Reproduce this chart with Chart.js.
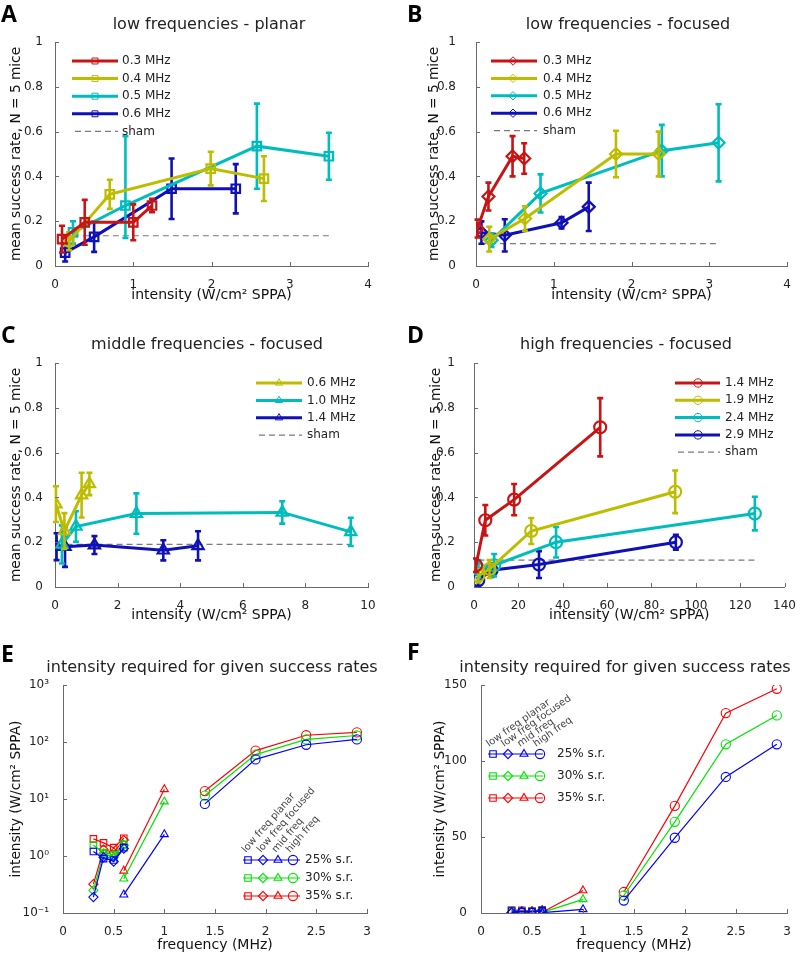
<!DOCTYPE html>
<html><head><meta charset="utf-8">
<script src="https://cdn.jsdelivr.net/npm/chart.js@4.4.1/dist/chart.umd.min.js"></script>
<style>
html,body{margin:0;padding:0;background:#fff;}
#wrap{position:relative;width:800px;height:956px;overflow:hidden;background:#fff;}
canvas{position:absolute;}
</style></head><body>
<div id="wrap">
<canvas id="cA" width="400" height="318" style="left:0px;top:0px;width:400px;height:318px"></canvas>
<canvas id="cB" width="400" height="318" style="left:400px;top:0px;width:400px;height:318px"></canvas>
<canvas id="cC" width="400" height="312" style="left:0px;top:318px;width:400px;height:312px"></canvas>
<canvas id="cD" width="400" height="312" style="left:400px;top:318px;width:400px;height:312px"></canvas>
<canvas id="cE" width="400" height="326" style="left:0px;top:630px;width:400px;height:326px"></canvas>
<canvas id="cF" width="400" height="326" style="left:400px;top:630px;width:400px;height:326px"></canvas>
</div>
<script>
// ---------------- DATA ----------------
// Panel A: low frequencies - planar (x: intensity, y: mean success rate, e: error)
const A_03_x = [0.09, 0.38, 1.0, 1.24];
const A_03_y = [0.12, 0.195, 0.195, 0.27];
const A_03_e = [0.06, 0.10, 0.08, 0.03];
const A_04_x = [0.18, 0.70, 1.99, 2.67];
const A_04_y = [0.11, 0.32, 0.435, 0.39];
const A_04_e = [0.04, 0.065, 0.075, 0.10];
const A_05_x = [0.23, 0.90, 2.58, 3.50];
const A_05_y = [0.15, 0.27, 0.535, 0.49];
const A_05_e = [0.05, 0.145, 0.19, 0.105];
const A_05_eUp = [0.05, 0.31, 0.19, 0.105];
const A_06_x = [0.13, 0.50, 1.49, 2.31];
const A_06_y = [0.06, 0.13, 0.345, 0.345];
const A_06_e = [0.04, 0.067, 0.135, 0.11];
const A_sham_x = [0.1, 3.5];
const A_sham_y = [0.135, 0.135];

// Panel B: low frequencies - focused
const B_03_x = [0.02, 0.16, 0.47, 0.62];
const B_03_y = [0.167, 0.31, 0.49, 0.48];
const B_03_e = [0.04, 0.062, 0.09, 0.068];
const B_04_x = [0.17, 0.63, 1.80, 2.35];
const B_04_y = [0.12, 0.212, 0.50, 0.50];
const B_04_e = [0.055, 0.055, 0.104, 0.10];
const B_05_x = [0.20, 0.83, 2.39, 3.12];
const B_05_y = [0.115, 0.324, 0.515, 0.55];
const B_05_e = [0.03, 0.085, 0.115, 0.172];
const B_06_x = [0.07, 0.37, 1.10, 1.45];
const B_06_y = [0.149, 0.137, 0.193, 0.264];
const B_06_e = [0.05, 0.072, 0.025, 0.108];
const B_sham_x = [0.05, 3.1];
const B_sham_y = [0.10, 0.10];

// Panel C: middle frequencies - focused
const C_06_x = [0.03, 0.30, 0.85, 1.10];
const C_06_y = [0.37, 0.25, 0.41, 0.46];
const C_06_e = [0.08, 0.08, 0.10, 0.05];
const C_10_x = [0.22, 0.67, 2.60, 7.26, 9.45];
const C_10_y = [0.19, 0.27, 0.328, 0.333, 0.246];
const C_10_e = [0.085, 0.068, 0.09, 0.05, 0.063];
const C_14_x = [0.05, 0.32, 1.26, 3.46, 4.57];
const C_14_y = [0.18, 0.18, 0.187, 0.164, 0.184];
const C_14_e = [0.06, 0.09, 0.04, 0.045, 0.065];
const C_sham_x = [0.05, 9.45];
const C_sham_y = [0.19, 0.19];

// Panel D: high frequencies - focused
const D_14_x = [0.9, 5.1, 18.1, 56.9];
const D_14_y = [0.097, 0.298, 0.39, 0.713];
const D_14_e = [0.03, 0.068, 0.07, 0.13];
const D_19_x = [2.0, 7.0, 25.8, 90.7];
const D_19_y = [0.05, 0.08, 0.25, 0.425];
const D_19_e = [0.03, 0.04, 0.058, 0.095];
const D_24_x = [2.0, 9.1, 37.0, 126.6];
const D_24_y = [0.08, 0.097, 0.20, 0.328];
const D_24_e = [0.04, 0.05, 0.068, 0.075];
const D_29_x = [1.9, 7.9, 29.3, 91.0];
const D_29_y = [0.03, 0.075, 0.10, 0.20];
const D_29_e = [0.025, 0.03, 0.06, 0.033];
const D_sham_x = [2, 127];
const D_sham_y = [0.12, 0.12];

// Panels E/F: intensity required for given success rates (x: frequency MHz)
const freqPlanar  = [0.3, 0.4, 0.5, 0.6];
const freqFocused = [0.3, 0.4, 0.5, 0.6];
const freqMid     = [0.6, 1.0];
const freqHigh    = [1.4, 1.9, 2.4, 2.9];
const sr25_planar  = [1.2, 0.9, 0.85, 1.4];
const sr25_focused = [0.19, 0.95, 0.8, 1.35];
const sr25_mid     = [0.21, 2.4];
const sr25_high    = [8.2, 49.5, 89.5, 111];
const sr30_planar  = [1.55, 1.15, 1.05, 1.6];
const sr30_focused = [0.25, 1.1, 0.95, 1.55];
const sr30_mid     = [0.4, 9.0];
const sr30_high    = [11.5, 60, 111, 130];
const sr35_planar  = [2.0, 1.7, 1.4, 2.05];
const sr35_focused = [0.32, 1.3, 1.15, 1.9];
const sr35_mid     = [0.55, 14.8];
const sr35_high    = [13.8, 70.5, 131.5, 147.5];

const ticksA = [0, 1, 2, 3, 4];
const ticksC = [0, 2, 4, 6, 8, 10];
const ticksD = [0, 20, 40, 60, 80, 100, 120, 140];
const ticksRate = [0, 0.2, 0.4, 0.6, 0.8, 1];
const ticksFreq = [0, 0.5, 1, 1.5, 2, 2.5, 3];
const ticksLog = [0.1, 1, 10, 100, 1000];
const ticksLin = [0, 50, 100, 150];

// ---------------- STYLE ----------------
const FONT = '"DejaVu Sans", sans-serif';
Chart.defaults.font.family = FONT;
Chart.defaults.color = '#222';
const RED = '#c81414', OLV = '#bdbd00', CYN = '#00bdbd', BLU = '#1010b8';
const E_BLU = '#0000ff', E_GRN = '#00e400', E_RED = '#ff0000';
const AXC = '#6a6a6a';

function pts(xs, ys) { return xs.map((x, i) => ({ x: x, y: ys[i] })); }
function series(label, xs, ys, errs, color, style, r, errsUp) {
  return { label, data: pts(xs, ys), errors: errs, errorsUp: errsUp || errs, showLine: true, borderColor: color, backgroundColor: color,
    borderWidth: 3, pointStyle: style, pointRadius: r, pointHoverRadius: r, pointBorderWidth: 2.2,
    pointBorderColor: color, pointBackgroundColor: 'rgba(255,255,255,0)', tension: 0 };
}
function sham(xs, ys) {
  return { label: 'sham', data: pts(xs, ys), showLine: true, borderColor: '#7a7a7a', borderWidth: 1.2,
    borderDash: [6, 4], pointRadius: 0, pointHoverRadius: 0 };
}
function thin(label, xs, ys, color, style) {
  return { label, data: pts(xs, ys), showLine: true, borderColor: color, backgroundColor: color, borderWidth: 1.2,
    pointStyle: style, pointRadius: 4.6, pointHoverRadius: 4.6, pointBorderWidth: 1.1, pointBorderColor: color,
    pointBackgroundColor: 'rgba(255,255,255,0)', tension: 0 };
}

function drawMarker(ctx, style, x, y, r, color, lw) {
  ctx.save(); ctx.strokeStyle = color; ctx.lineWidth = lw; ctx.setLineDash([]);
  ctx.beginPath();
  if (style === 'rect') { const s = r * Math.SQRT1_2; ctx.rect(x - s, y - s, 2 * s, 2 * s); }
  else if (style === 'rectRot') { ctx.moveTo(x, y - r); ctx.lineTo(x + r, y); ctx.lineTo(x, y + r); ctx.lineTo(x - r, y); ctx.closePath(); }
  else if (style === 'triangle') {
    let a = 0; ctx.moveTo(x + Math.sin(a) * r, y - Math.cos(a) * r);
    a += 2 * Math.PI / 3; ctx.lineTo(x + Math.sin(a) * r, y - Math.cos(a) * r);
    a += 2 * Math.PI / 3; ctx.lineTo(x + Math.sin(a) * r, y - Math.cos(a) * r); ctx.closePath();
  } else { ctx.arc(x, y, r, 0, Math.PI * 2); }
  ctx.stroke(); ctx.restore();
}

// ---------------- PLUGINS ----------------
const panelText = {
  id: 'panelText',
  afterDraw(chart, args, o) {
    const ctx = chart.ctx; ctx.save();
    ctx.fillStyle = '#000'; ctx.font = 'bold 23px "Open Sans", sans-serif';
    ctx.textAlign = 'left'; ctx.textBaseline = 'alphabetic';
    ctx.fillText(o.letter, o.lx, o.ly);
    ctx.fillStyle = '#222'; ctx.font = '16px ' + FONT; ctx.textAlign = 'center'; ctx.textBaseline = 'middle';
    ctx.fillText(o.title, o.tx, o.ty);
    ctx.restore();
  }
};
const errorBars = {
  id: 'errorBars',
  beforeDatasetDraw(chart, args) {
    const ds = chart.data.datasets[args.index];
    if (!ds.errors) return;
    const ctx = chart.ctx, xs = chart.scales.x, ys = chart.scales.y;
    ctx.save(); ctx.strokeStyle = ds.borderColor; ctx.lineWidth = 2.6; ctx.setLineDash([]);
    ds.data.forEach((p, i) => {
      const px = xs.getPixelForValue(p.x);
      const t = ys.getPixelForValue(p.y + ds.errorsUp[i]), b = ys.getPixelForValue(p.y - ds.errors[i]);
      ctx.beginPath();
      ctx.moveTo(px, t); ctx.lineTo(px, b);
      ctx.moveTo(px - 3, t); ctx.lineTo(px + 3, t);
      ctx.moveTo(px - 3, b); ctx.lineTo(px + 3, b);
      ctx.stroke();
    });
    ctx.restore();
  }
};
const inTicks = {
  id: 'inTicks',
  afterDraw(chart) {
    const ctx = chart.ctx, a = chart.chartArea, xs = chart.scales.x, ys = chart.scales.y;
    ctx.save(); ctx.strokeStyle = AXC; ctx.lineWidth = 1; ctx.beginPath();
    xs.ticks.forEach(t => { const p = Math.round(xs.getPixelForValue(t.value)) + 0.5; ctx.moveTo(p, a.bottom); ctx.lineTo(p, a.bottom - 4); });
    ys.ticks.forEach(t => { const p = Math.round(ys.getPixelForValue(t.value)) + 0.5; ctx.moveTo(a.left, p); ctx.lineTo(a.left + 4, p); });
    ctx.stroke(); ctx.restore();
  }
};
const lineLegend = {
  id: 'lineLegend',
  afterDraw(chart, args, o) {
    if (!o || o.x0 == null) return;
    const ctx = chart.ctx;
    chart.data.datasets.forEach((ds, k) => {
      const y = o.y0 + k * o.dy;
      ctx.save();
      ctx.strokeStyle = ds.borderColor; ctx.lineWidth = ds.borderWidth; ctx.setLineDash(ds.borderDash || []);
      ctx.beginPath(); ctx.moveTo(ds.pointRadius ? o.x0 : o.x0 + 3, y); ctx.lineTo(o.x1, y); ctx.stroke();
      if (ds.pointRadius) drawMarker(ctx, ds.pointStyle, o.mx, y, 4.2, ds.borderColor, 1);
      ctx.fillStyle = '#222'; ctx.font = '12px ' + FONT; ctx.textAlign = 'left'; ctx.textBaseline = 'middle';
      ctx.fillText(ds.label, o.tx, y);
      ctx.restore();
    });
  }
};
const rateLegend = {
  id: 'rateLegend',
  afterDraw(chart, args, o) {
    if (!o || !o.rows) return;
    const ctx = chart.ctx;
    o.rows.forEach((row, r) => {
      const y = o.y0 + r * o.dy;
      const d0 = chart.data.datasets[row.ds[0]];
      ctx.save(); ctx.strokeStyle = d0.borderColor; ctx.lineWidth = 1.2;
      ctx.beginPath(); ctx.moveTo(o.x0, y); ctx.lineTo(o.x1, y); ctx.stroke();
      row.ds.forEach((di, k) => { const ds = chart.data.datasets[di]; drawMarker(ctx, ds.pointStyle, o.mx[k], y, 4.6, ds.borderColor, 1.1); });
      ctx.fillStyle = '#222'; ctx.font = '12px ' + FONT; ctx.textAlign = 'left'; ctx.textBaseline = 'middle';
      ctx.fillText(row.text, o.tx, y);
      ctx.restore();
    });
    ctx.save(); ctx.font = '10px ' + FONT; ctx.fillStyle = '#444';
    o.groups.forEach((g, k) => {
      ctx.save(); ctx.translate(o.gx[k], o.gy[k]); ctx.rotate(-o.angle * Math.PI / 180);
      ctx.textAlign = 'left'; ctx.textBaseline = 'alphabetic'; ctx.fillText(g, 0, 0); ctx.restore();
    });
    ctx.restore();
  }
};

const SUP = { '-1': '10⁻¹', '0': '10⁰', '1': '10¹', '2': '10²', '3': '10³' };
const fmt = v => String(Math.round(v * 1000) / 1000);

function scales(o) {
  const y = {
    type: o.ytype || 'linear', min: o.ymin, max: o.ymax,
    ticks: { padding: o.ypad, font: { size: 12 }, color: '#222', autoSkip: false, callback: fmt },
    grid: { display: false }, border: { display: true, color: AXC, width: 1 },
    title: { display: true, text: o.ytitle, font: { size: 13.7 }, color: '#111', padding: { top: o.ytp, bottom: 0 } },
    afterBuildTicks(s) { s.ticks = o.yticks.map(v => ({ value: v })); },
    afterFit(s) { s.width = o.yw; }
  };
  if (o.ytype === 'logarithmic') {
    y.ticks.callback = v => SUP[String(Math.round(Math.log10(v)))];
  }
  return {
    x: {
      type: 'linear', min: o.xmin, max: o.xmax,
      ticks: { padding: 4, font: { size: 12 }, color: '#222', autoSkip: false, maxRotation: 0, callback: fmt },
      grid: { display: false }, border: { display: true, color: AXC, width: 1 },
      title: { display: true, text: o.xtitle, font: { size: 14 }, color: '#111', padding: { top: 0, bottom: o.xtp } },
      afterBuildTicks(s) { s.ticks = o.xticks.map(v => ({ value: v })); },
      afterFit(s) { s.height = o.xh; }
    },
    y: y
  };
}

function make(id, datasets, pad, sc, pluginOpts, extraPlugins) {
  return new Chart(document.getElementById(id), {
    type: 'scatter',
    data: { datasets },
    options: {
      responsive: false, animation: false, devicePixelRatio: 1, events: [],
      layout: { padding: pad },
      plugins: Object.assign({ legend: { display: false }, tooltip: { enabled: false } }, pluginOpts),
      scales: sc
    },
    plugins: [errorBars, inTicks, panelText].concat(extraPlugins)
  });
}

const XT = 'intensity (W/cm² SPPA)';
const YT = 'mean success rate, N = 5 mice';

// A
make('cA', [
  series('0.3 MHz', A_03_x, A_03_y, A_03_e, RED, 'rect', 6),
  series('0.4 MHz', A_04_x, A_04_y, A_04_e, OLV, 'rect', 6),
  series('0.5 MHz', A_05_x, A_05_y, A_05_e, CYN, 'rect', 6, A_05_eUp),
  series('0.6 MHz', A_06_x, A_06_y, A_06_e, BLU, 'rect', 6),
  sham(A_sham_x, A_sham_y)
], { top: 42, right: 32, left: 0, bottom: 0 },
  scales({ xmin: 0, xmax: 4, xticks: ticksA, xtitle: XT, xtp: 14.6, xh: 52, ymin: 0, ymax: 1, yticks: ticksRate, ytitle: YT, ytp: 7.8, yw: 55, ypad: 4 }),
  { panelText: { letter: 'A', lx: 1, ly: 22, title: 'low frequencies - planar', tx: 209, ty: 25 },
    lineLegend: { x0: 72, x1: 118, mx: 95, tx: 122, y0: 61, dy: 17.6 } }, [lineLegend]);

// B
make('cB', [
  series('0.3 MHz', B_03_x, B_03_y, B_03_e, RED, 'rectRot', 6),
  series('0.4 MHz', B_04_x, B_04_y, B_04_e, OLV, 'rectRot', 6),
  series('0.5 MHz', B_05_x, B_05_y, B_05_e, CYN, 'rectRot', 6),
  series('0.6 MHz', B_06_x, B_06_y, B_06_e, BLU, 'rectRot', 6),
  sham(B_sham_x, B_sham_y)
], { top: 42, right: 13, left: 0, bottom: 0 },
  scales({ xmin: 0, xmax: 4, xticks: ticksA, xtitle: XT, xtp: 14.6, xh: 52, ymin: 0, ymax: 1, yticks: ticksRate, ytitle: YT, ytp: 26.6, yw: 76, ypad: 12 }),
  { panelText: { letter: 'B', lx: 7, ly: 22, title: 'low frequencies - focused', tx: 228, ty: 25 },
    lineLegend: { x0: 91, x1: 137, mx: 113, tx: 143, y0: 61, dy: 17.4 } }, [lineLegend]);

// C
make('cC', [
  series('0.6 MHz', C_06_x, C_06_y, C_06_e, OLV, 'triangle', 6.5),
  series('1.0 MHz', C_10_x, C_10_y, C_10_e, CYN, 'triangle', 6.5),
  series('1.4 MHz', C_14_x, C_14_y, C_14_e, BLU, 'triangle', 6.5),
  sham(C_sham_x, C_sham_y)
], { top: 45, right: 32, left: 0, bottom: 0 },
  scales({ xmin: 0, xmax: 10, xticks: ticksC, xtitle: XT, xtp: 6.6, xh: 43, ymin: 0, ymax: 1, yticks: ticksRate, ytitle: YT, ytp: 7.8, yw: 55, ypad: 4 }),
  { panelText: { letter: 'C', lx: 1, ly: 25, title: 'middle frequencies - focused', tx: 207, ty: 27 },
    lineLegend: { x0: 256, x1: 302, mx: 279, tx: 307, y0: 65, dy: 17.4 } }, [lineLegend]);

// D
make('cD', [
  series('1.4 MHz', D_14_x, D_14_y, D_14_e, RED, 'circle', 6),
  series('1.9 MHz', D_19_x, D_19_y, D_19_e, OLV, 'circle', 6),
  series('2.4 MHz', D_24_x, D_24_y, D_24_e, CYN, 'circle', 6),
  series('2.9 MHz', D_29_x, D_29_y, D_29_e, BLU, 'circle', 6),
  sham(D_sham_x, D_sham_y)
], { top: 45, right: 13, left: 0, bottom: 0 },
  scales({ xmin: 0, xmax: 140, xticks: ticksD, xtitle: XT, xtp: 6.6, xh: 43, ymin: 0, ymax: 1, yticks: ticksRate, ytitle: YT, ytp: 28.6, yw: 74, ypad: 11 }),
  { panelText: { letter: 'D', lx: 7, ly: 25, title: 'high frequencies - focused', tx: 226, ty: 27 },
    lineLegend: { x0: 275, x1: 320, mx: 298, tx: 325, y0: 65, dy: 17.3 } }, [lineLegend]);

// E / F datasets
function rateSets() {
  return [
    thin('25% s.r. low freq planar', freqPlanar, sr25_planar, E_BLU, 'rect'),
    thin('25% s.r. low freq focused', freqFocused, sr25_focused, E_BLU, 'rectRot'),
    thin('25% s.r. mid freq', freqMid, sr25_mid, E_BLU, 'triangle'),
    thin('25% s.r. high freq', freqHigh, sr25_high, E_BLU, 'circle'),
    thin('30% s.r. low freq planar', freqPlanar, sr30_planar, E_GRN, 'rect'),
    thin('30% s.r. low freq focused', freqFocused, sr30_focused, E_GRN, 'rectRot'),
    thin('30% s.r. mid freq', freqMid, sr30_mid, E_GRN, 'triangle'),
    thin('30% s.r. high freq', freqHigh, sr30_high, E_GRN, 'circle'),
    thin('35% s.r. low freq planar', freqPlanar, sr35_planar, E_RED, 'rect'),
    thin('35% s.r. low freq focused', freqFocused, sr35_focused, E_RED, 'rectRot'),
    thin('35% s.r. mid freq', freqMid, sr35_mid, E_RED, 'triangle'),
    thin('35% s.r. high freq', freqHigh, sr35_high, E_RED, 'circle')
  ];
}
const ROWS = [{ ds: [0, 1, 2, 3], text: '25% s.r.' }, { ds: [4, 5, 6, 7], text: '30% s.r.' }, { ds: [8, 9, 10, 11], text: '35% s.r.' }];
const GROUPS = ['low freq planar', 'low freq focused', 'mid freq', 'high freq'];

make('cE', rateSets(), { top: 55, right: 33, left: 0, bottom: 0 },
  scales({ xmin: 0, xmax: 3, xticks: ticksFreq, xtitle: 'frequency (MHz)', xtp: 2.6, xh: 43, ytype: 'logarithmic', ymin: 0.1, ymax: 1000, yticks: ticksLog, ytitle: XT, ytp: 8.6, yw: 63, ypad: 6 }),
  { panelText: { letter: 'E', lx: 1, ly: 32, title: 'intensity required for given success rates', tx: 212, ty: 38 },
    rateLegend: { rows: ROWS, x0: 243, x1: 300, mx: [248, 263, 278, 293], tx: 305, y0: 230, dy: 18, groups: GROUPS, gx: [246, 261, 276, 290], gy: [223, 223, 223, 223], angle: 49 } }, [rateLegend]);

make('cF', rateSets(), { top: 55, right: 13, left: 0, bottom: 0 },
  scales({ xmin: 0, xmax: 3, xticks: ticksFreq, xtitle: 'frequency (MHz)', xtp: 2.6, xh: 43, ymin: 0, ymax: 150, yticks: ticksLin, ytitle: XT, ytp: 32.6, yw: 81, ypad: 6 }),
  { panelText: { letter: 'F', lx: 7, ly: 30, title: 'intensity required for given success rates', tx: 225, ty: 38 },
    rateLegend: { rows: ROWS, x0: 88, x1: 143, mx: [93, 108, 124, 140], tx: 157, y0: 124, dy: 22, groups: GROUPS, gx: [89, 104, 120, 136], gy: [117, 117, 117, 117], angle: 35 } }, [rateLegend]);
</script>
</body></html>
